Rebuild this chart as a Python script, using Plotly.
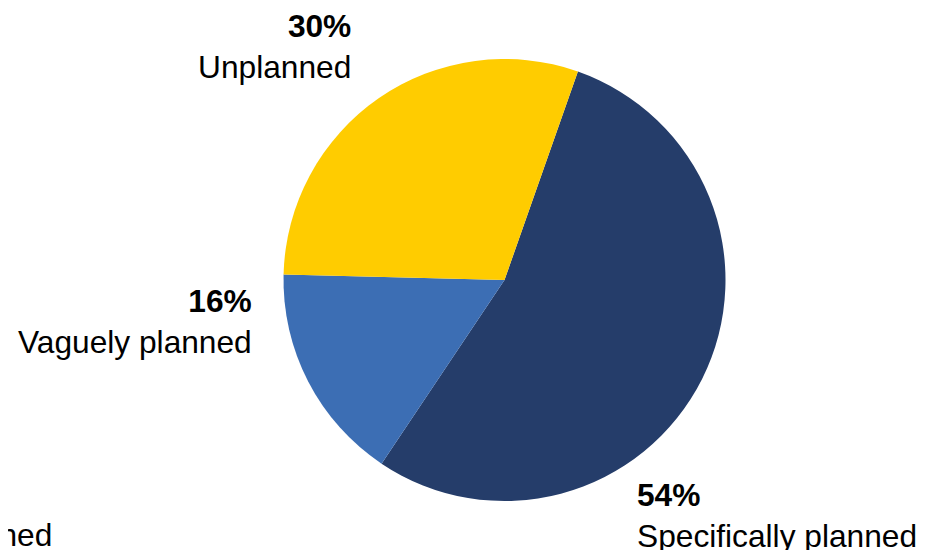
import plotly.graph_objects as go

labels = ["Specifically planned", "Vaguely planned", "Unplanned"]
values = [54, 16, 30]
colors = ["#253D6A", "#3C6EB4", "#FFCC00"]

W, H = 939, 550
# label anchor positions (figure pixels) and alignment
label_pos = {
    "Unplanned": (345, 38.5, "right"),
    "Vaguely planned": (246, 313, "right"),
    "Specifically planned": (627, 507, "left"),
}

cx, cy, r = 496.5, 272, 221
fig = go.Figure(go.Pie(
    labels=labels,
    values=values,
    marker=dict(colors=colors, line=dict(width=0)),
    sort=False,
    direction="clockwise",
    rotation=19.4,
    textinfo="none",
    hoverinfo="label+percent",
    domain=dict(x=[(cx - r) / W, (cx + r) / W], y=[(H - cy - r) / H, (H - cy + r) / H]),
    showlegend=False,
))

font = dict(family="Liberation Sans, Arial, sans-serif", size=31.7, color="#000000")
annotations = []
for lab, val in zip(labels, values):
    px, py, align = label_pos[lab]
    annotations.append(dict(
        x=px / W, y=1 - py / H, xref="paper", yref="paper",
        text=f"<b>{val}%</b><br>{lab}",
        showarrow=False, xanchor=align, yanchor="middle", align=align,
        font=font,
    ))
# partially clipped label at lower-left edge
annotations.append(dict(
    x=46 / W, y=1 - 527 / H, xref="paper", yref="paper",
    text="Unplanned", showarrow=False, xanchor="right", yanchor="middle",
    font=font,
))

fig.update_layout(
    width=W, height=H,
    margin=dict(l=0, r=0, t=0, b=0),
    paper_bgcolor="white",
    plot_bgcolor="white",
    annotations=annotations,
)

fig.write_html("out.html")
